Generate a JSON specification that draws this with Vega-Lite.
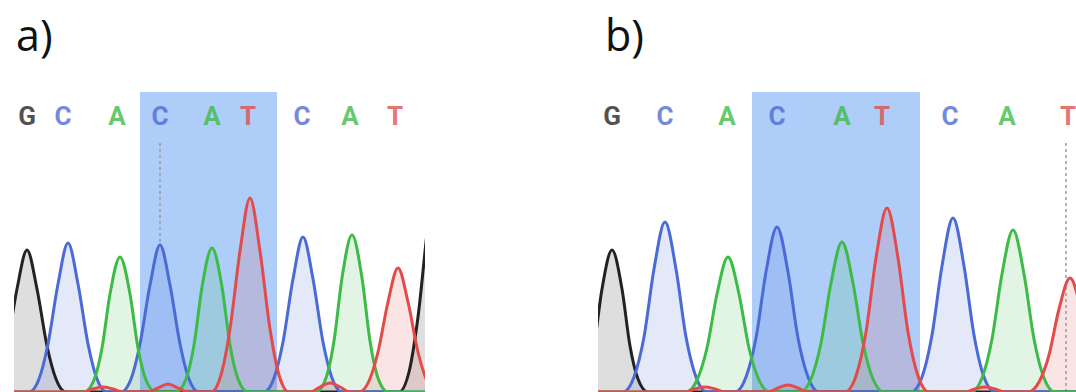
{
  "$schema": "https://vega.github.io/schema/vega-lite/v6.json",
  "background": "white",
  "padding": {"left": 14, "top": 17, "right": 0, "bottom": 0},
  "config": {
    "view": {"stroke": null},
    "title": {"font": "Open Sans", "fontSize": 43, "fontWeight": "normal", "color": "#111111", "anchor": "start", "offset": 32}
  },
  "datasets": {
    "hl": [{"p": "a", "x0": 126, "x1": 263}, {"p": "b", "x0": 154, "x1": 322}],
    "mk": [{"p": "a", "x": 146, "y0": 150, "y1": 249}, {"p": "b", "x": 468, "y0": 0, "y1": 249}],
    "lab": [
      {"p": "a", "b": "G", "x": 13}, {"p": "a", "b": "C", "x": 49}, {"p": "a", "b": "A", "x": 103},
      {"p": "a", "b": "C", "x": 146}, {"p": "a", "b": "A", "x": 198}, {"p": "a", "b": "T", "x": 234},
      {"p": "a", "b": "C", "x": 288}, {"p": "a", "b": "A", "x": 336}, {"p": "a", "b": "T", "x": 381},
      {"p": "a", "b": "G", "x": 419},
      {"p": "b", "b": "G", "x": 14}, {"p": "b", "b": "C", "x": 67}, {"p": "b", "b": "A", "x": 129},
      {"p": "b", "b": "C", "x": 179}, {"p": "b", "b": "A", "x": 244}, {"p": "b", "b": "T", "x": 284},
      {"p": "b", "b": "C", "x": 352}, {"p": "b", "b": "A", "x": 409}, {"p": "b", "b": "T", "x": 470}
    ],
    "tr": [
      {"p":"a","b":"G","x":-26,"y":0},{"p":"a","b":"G","x":-16,"y":13},{"p":"a","b":"G","x":-7,"y":46},{"p":"a","b":"G","x":3,"y":103},{"p":"a","b":"G","x":13,"y":142},{"p":"a","b":"G","x":23,"y":103},{"p":"a","b":"G","x":33,"y":46},{"p":"a","b":"G","x":42,"y":13},{"p":"a","b":"G","x":52,"y":0},
      {"p":"a","b":"G","x":385,"y":0},{"p":"a","b":"G","x":395,"y":20},{"p":"a","b":"G","x":404,"y":75},{"p":"a","b":"G","x":414,"y":167},{"p":"a","b":"G","x":424,"y":230},{"p":"a","b":"G","x":434,"y":167},{"p":"a","b":"G","x":444,"y":75},{"p":"a","b":"G","x":453,"y":20},{"p":"a","b":"G","x":463,"y":0},

      {"p":"a","b":"C","x":0,"y":0},{"p":"a","b":"C","x":15,"y":0},{"p":"a","b":"C","x":25,"y":13},{"p":"a","b":"C","x":34,"y":48},{"p":"a","b":"C","x":44,"y":108},{"p":"a","b":"C","x":54,"y":149},{"p":"a","b":"C","x":64,"y":108},{"p":"a","b":"C","x":74,"y":48},{"p":"a","b":"C","x":83,"y":13},{"p":"a","b":"C","x":93,"y":0},
      {"p":"a","b":"C","x":107,"y":0},{"p":"a","b":"C","x":117,"y":13},{"p":"a","b":"C","x":126,"y":48},{"p":"a","b":"C","x":136,"y":107},{"p":"a","b":"C","x":146,"y":147},{"p":"a","b":"C","x":156,"y":107},{"p":"a","b":"C","x":166,"y":48},{"p":"a","b":"C","x":175,"y":13},{"p":"a","b":"C","x":185,"y":0},
      {"p":"a","b":"C","x":250,"y":0},{"p":"a","b":"C","x":260,"y":14},{"p":"a","b":"C","x":269,"y":50},{"p":"a","b":"C","x":279,"y":113},{"p":"a","b":"C","x":289,"y":155},{"p":"a","b":"C","x":299,"y":113},{"p":"a","b":"C","x":309,"y":50},{"p":"a","b":"C","x":318,"y":14},{"p":"a","b":"C","x":328,"y":0},{"p":"a","b":"C","x":411,"y":0},

      {"p":"a","b":"A","x":0,"y":0},{"p":"a","b":"A","x":70,"y":0},{"p":"a","b":"A","x":80,"y":12},{"p":"a","b":"A","x":88,"y":44},{"p":"a","b":"A","x":96,"y":98},{"p":"a","b":"A","x":106,"y":135},{"p":"a","b":"A","x":116,"y":98},{"p":"a","b":"A","x":124,"y":44},{"p":"a","b":"A","x":132,"y":12},{"p":"a","b":"A","x":142,"y":0},
      {"p":"a","b":"A","x":162,"y":0},{"p":"a","b":"A","x":172,"y":13},{"p":"a","b":"A","x":180,"y":47},{"p":"a","b":"A","x":188,"y":105},{"p":"a","b":"A","x":198,"y":144},{"p":"a","b":"A","x":208,"y":105},{"p":"a","b":"A","x":216,"y":47},{"p":"a","b":"A","x":224,"y":13},{"p":"a","b":"A","x":234,"y":0},
      {"p":"a","b":"A","x":302,"y":0},{"p":"a","b":"A","x":312,"y":14},{"p":"a","b":"A","x":320,"y":51},{"p":"a","b":"A","x":328,"y":114},{"p":"a","b":"A","x":338,"y":157},{"p":"a","b":"A","x":348,"y":114},{"p":"a","b":"A","x":356,"y":51},{"p":"a","b":"A","x":364,"y":14},{"p":"a","b":"A","x":374,"y":0},{"p":"a","b":"A","x":411,"y":0},

      {"p":"a","b":"T","x":0,"y":0},{"p":"a","b":"T","x":69,"y":0},{"p":"a","b":"T","x":79,"y":3},{"p":"a","b":"T","x":89,"y":5},{"p":"a","b":"T","x":99,"y":3},{"p":"a","b":"T","x":109,"y":0},
      {"p":"a","b":"T","x":134,"y":0},{"p":"a","b":"T","x":144,"y":4},{"p":"a","b":"T","x":154,"y":8},{"p":"a","b":"T","x":164,"y":4},{"p":"a","b":"T","x":174,"y":0},
      {"p":"a","b":"T","x":197,"y":0},{"p":"a","b":"T","x":207,"y":17},{"p":"a","b":"T","x":216,"y":63},{"p":"a","b":"T","x":226,"y":141},{"p":"a","b":"T","x":236,"y":194},{"p":"a","b":"T","x":246,"y":141},{"p":"a","b":"T","x":256,"y":63},{"p":"a","b":"T","x":265,"y":17},{"p":"a","b":"T","x":275,"y":0},
      {"p":"a","b":"T","x":296,"y":0},{"p":"a","b":"T","x":306,"y":5},{"p":"a","b":"T","x":316,"y":9},{"p":"a","b":"T","x":326,"y":5},{"p":"a","b":"T","x":336,"y":0},
      {"p":"a","b":"T","x":345,"y":0},{"p":"a","b":"T","x":355,"y":11},{"p":"a","b":"T","x":364,"y":40},{"p":"a","b":"T","x":374,"y":90},{"p":"a","b":"T","x":384,"y":124},{"p":"a","b":"T","x":394,"y":90},{"p":"a","b":"T","x":404,"y":40},{"p":"a","b":"T","x":413,"y":11},{"p":"a","b":"T","x":423,"y":0},

      {"p":"b","b":"G","x":-22,"y":0},{"p":"b","b":"G","x":-12,"y":13},{"p":"b","b":"G","x":-4,"y":46},{"p":"b","b":"G","x":4,"y":103},{"p":"b","b":"G","x":14,"y":142},{"p":"b","b":"G","x":24,"y":103},{"p":"b","b":"G","x":32,"y":46},{"p":"b","b":"G","x":40,"y":13},{"p":"b","b":"G","x":50,"y":0},{"p":"b","b":"G","x":478,"y":0},

      {"p":"b","b":"C","x":0,"y":0},{"p":"b","b":"C","x":25,"y":0},{"p":"b","b":"C","x":36,"y":15},{"p":"b","b":"C","x":46,"y":55},{"p":"b","b":"C","x":56,"y":123},{"p":"b","b":"C","x":67,"y":170},{"p":"b","b":"C","x":78,"y":123},{"p":"b","b":"C","x":88,"y":55},{"p":"b","b":"C","x":98,"y":15},{"p":"b","b":"C","x":109,"y":0},
      {"p":"b","b":"C","x":137,"y":0},{"p":"b","b":"C","x":148,"y":15},{"p":"b","b":"C","x":158,"y":54},{"p":"b","b":"C","x":168,"y":120},{"p":"b","b":"C","x":179,"y":165},{"p":"b","b":"C","x":190,"y":120},{"p":"b","b":"C","x":200,"y":54},{"p":"b","b":"C","x":210,"y":15},{"p":"b","b":"C","x":221,"y":0},
      {"p":"b","b":"C","x":313,"y":0},{"p":"b","b":"C","x":324,"y":15},{"p":"b","b":"C","x":334,"y":57},{"p":"b","b":"C","x":344,"y":126},{"p":"b","b":"C","x":355,"y":174},{"p":"b","b":"C","x":366,"y":126},{"p":"b","b":"C","x":376,"y":57},{"p":"b","b":"C","x":386,"y":15},{"p":"b","b":"C","x":397,"y":0},{"p":"b","b":"C","x":478,"y":0},

      {"p":"b","b":"A","x":0,"y":0},{"p":"b","b":"A","x":88,"y":0},{"p":"b","b":"A","x":99,"y":12},{"p":"b","b":"A","x":109,"y":44},{"p":"b","b":"A","x":119,"y":98},{"p":"b","b":"A","x":130,"y":135},{"p":"b","b":"A","x":141,"y":98},{"p":"b","b":"A","x":151,"y":44},{"p":"b","b":"A","x":161,"y":12},{"p":"b","b":"A","x":172,"y":0},
      {"p":"b","b":"A","x":202,"y":0},{"p":"b","b":"A","x":213,"y":13},{"p":"b","b":"A","x":223,"y":49},{"p":"b","b":"A","x":233,"y":109},{"p":"b","b":"A","x":244,"y":150},{"p":"b","b":"A","x":255,"y":109},{"p":"b","b":"A","x":265,"y":49},{"p":"b","b":"A","x":275,"y":13},{"p":"b","b":"A","x":286,"y":0},
      {"p":"b","b":"A","x":373,"y":0},{"p":"b","b":"A","x":384,"y":14},{"p":"b","b":"A","x":394,"y":53},{"p":"b","b":"A","x":404,"y":118},{"p":"b","b":"A","x":415,"y":162},{"p":"b","b":"A","x":426,"y":118},{"p":"b","b":"A","x":436,"y":53},{"p":"b","b":"A","x":446,"y":14},{"p":"b","b":"A","x":457,"y":0},{"p":"b","b":"A","x":478,"y":0},

      {"p":"b","b":"T","x":0,"y":0},{"p":"b","b":"T","x":87,"y":0},{"p":"b","b":"T","x":97,"y":3},{"p":"b","b":"T","x":107,"y":5},{"p":"b","b":"T","x":117,"y":3},{"p":"b","b":"T","x":127,"y":0},
      {"p":"b","b":"T","x":170,"y":0},{"p":"b","b":"T","x":180,"y":4},{"p":"b","b":"T","x":190,"y":7},{"p":"b","b":"T","x":200,"y":4},{"p":"b","b":"T","x":210,"y":0},
      {"p":"b","b":"T","x":247,"y":0},{"p":"b","b":"T","x":258,"y":16},{"p":"b","b":"T","x":268,"y":60},{"p":"b","b":"T","x":278,"y":134},{"p":"b","b":"T","x":289,"y":184},{"p":"b","b":"T","x":300,"y":134},{"p":"b","b":"T","x":310,"y":60},{"p":"b","b":"T","x":320,"y":16},{"p":"b","b":"T","x":331,"y":0},
      {"p":"b","b":"T","x":367,"y":0},{"p":"b","b":"T","x":377,"y":3},{"p":"b","b":"T","x":387,"y":5},{"p":"b","b":"T","x":397,"y":3},{"p":"b","b":"T","x":407,"y":0},
      {"p":"b","b":"T","x":430,"y":0},{"p":"b","b":"T","x":441,"y":10},{"p":"b","b":"T","x":451,"y":37},{"p":"b","b":"T","x":461,"y":83},{"p":"b","b":"T","x":472,"y":114},{"p":"b","b":"T","x":483,"y":83},{"p":"b","b":"T","x":493,"y":37},{"p":"b","b":"T","x":503,"y":10},{"p":"b","b":"T","x":514,"y":0}
    ]
  },
  "spacing": 173,
  "hconcat": [
    {
      "width": 411,
      "height": 300,
      "title": {"text": "a)", "dx": 2},
      "layer": [
        {
          "data": {"name": "hl"},
          "transform": [{"filter": "datum.p == 'a'"}],
          "mark": {"type": "rect", "color": "#aecdf8"},
          "encoding": {
            "x": {"field": "x0", "type": "quantitative", "scale": {"domain": [0, 411], "nice": false, "zero": false}, "axis": null},
            "x2": {"field": "x1"},
            "y": {"datum": 300, "type": "quantitative", "scale": {"domain": [0, 300], "nice": false}, "axis": null},
            "y2": {"datum": 0}
          }
        },
        {
          "data": {"name": "tr"},
          "transform": [{"filter": "datum.p == 'a'"}],
          "mark": {"type": "area", "interpolate": "monotone", "opacity": 0.15, "clip": true},
          "encoding": {
            "x": {"field": "x", "type": "quantitative", "scale": {"domain": [0, 411], "nice": false, "zero": false}, "axis": null},
            "y": {"field": "y", "type": "quantitative", "stack": null, "scale": {"domain": [0, 300], "nice": false}, "axis": null},
            "color": {"field": "b", "type": "nominal", "scale": {"domain": ["G", "C", "A", "T"], "range": ["#222222", "#4a6ad6", "#3dbb47", "#e34b4b"]}, "legend": null}
          }
        },
        {
          "data": {"name": "mk"},
          "transform": [{"filter": "datum.p == 'a'"}],
          "mark": {"type": "rule", "strokeDash": [3, 3], "color": "#9a9a9a", "strokeWidth": 1.5},
          "encoding": {
            "x": {"field": "x", "type": "quantitative"},
            "y": {"field": "y0", "type": "quantitative"},
            "y2": {"field": "y1"}
          }
        },
        {
          "data": {"name": "tr"},
          "transform": [{"filter": "datum.p == 'a'"}],
          "mark": {"type": "line", "interpolate": "monotone", "strokeWidth": 3, "clip": true},
          "encoding": {
            "x": {"field": "x", "type": "quantitative"},
            "y": {"field": "y", "type": "quantitative"},
            "color": {"field": "b", "type": "nominal", "legend": null}
          }
        },
        {
          "data": {"name": "lab"},
          "transform": [{"filter": "datum.p == 'a'"}],
          "mark": {"type": "text", "font": "Roboto", "fontSize": 26, "fontWeight": "bold", "baseline": "middle", "opacity": 0.78, "clip": true},
          "encoding": {
            "x": {"field": "x", "type": "quantitative"},
            "y": {"datum": 275, "type": "quantitative"},
            "text": {"field": "b"},
            "color": {"field": "b", "type": "nominal", "legend": null}
          }
        }
      ]
    },
    {
      "width": 478,
      "height": 300,
      "title": {"text": "b)", "dx": 7},
      "layer": [
        {
          "data": {"name": "hl"},
          "transform": [{"filter": "datum.p == 'b'"}],
          "mark": {"type": "rect", "color": "#aecdf8"},
          "encoding": {
            "x": {"field": "x0", "type": "quantitative", "scale": {"domain": [0, 478], "nice": false, "zero": false}, "axis": null},
            "x2": {"field": "x1"},
            "y": {"datum": 300, "type": "quantitative", "scale": {"domain": [0, 300], "nice": false}, "axis": null},
            "y2": {"datum": 0}
          }
        },
        {
          "data": {"name": "tr"},
          "transform": [{"filter": "datum.p == 'b'"}],
          "mark": {"type": "area", "interpolate": "monotone", "opacity": 0.15, "clip": true},
          "encoding": {
            "x": {"field": "x", "type": "quantitative", "scale": {"domain": [0, 478], "nice": false, "zero": false}, "axis": null},
            "y": {"field": "y", "type": "quantitative", "stack": null, "scale": {"domain": [0, 300], "nice": false}, "axis": null},
            "color": {"field": "b", "type": "nominal", "scale": {"domain": ["G", "C", "A", "T"], "range": ["#222222", "#4a6ad6", "#3dbb47", "#e34b4b"]}, "legend": null}
          }
        },
        {
          "data": {"name": "mk"},
          "transform": [{"filter": "datum.p == 'b'"}],
          "mark": {"type": "rule", "strokeDash": [3, 3], "color": "#9a9a9a", "strokeWidth": 1.5},
          "encoding": {
            "x": {"field": "x", "type": "quantitative"},
            "y": {"field": "y0", "type": "quantitative"},
            "y2": {"field": "y1"}
          }
        },
        {
          "data": {"name": "tr"},
          "transform": [{"filter": "datum.p == 'b'"}],
          "mark": {"type": "line", "interpolate": "monotone", "strokeWidth": 3, "clip": true},
          "encoding": {
            "x": {"field": "x", "type": "quantitative"},
            "y": {"field": "y", "type": "quantitative"},
            "color": {"field": "b", "type": "nominal", "legend": null}
          }
        },
        {
          "data": {"name": "lab"},
          "transform": [{"filter": "datum.p == 'b'"}],
          "mark": {"type": "text", "font": "Roboto", "fontSize": 26, "fontWeight": "bold", "baseline": "middle", "opacity": 0.78, "clip": true},
          "encoding": {
            "x": {"field": "x", "type": "quantitative"},
            "y": {"datum": 275, "type": "quantitative"},
            "text": {"field": "b"},
            "color": {"field": "b", "type": "nominal", "legend": null}
          }
        }
      ]
    }
  ]
}
